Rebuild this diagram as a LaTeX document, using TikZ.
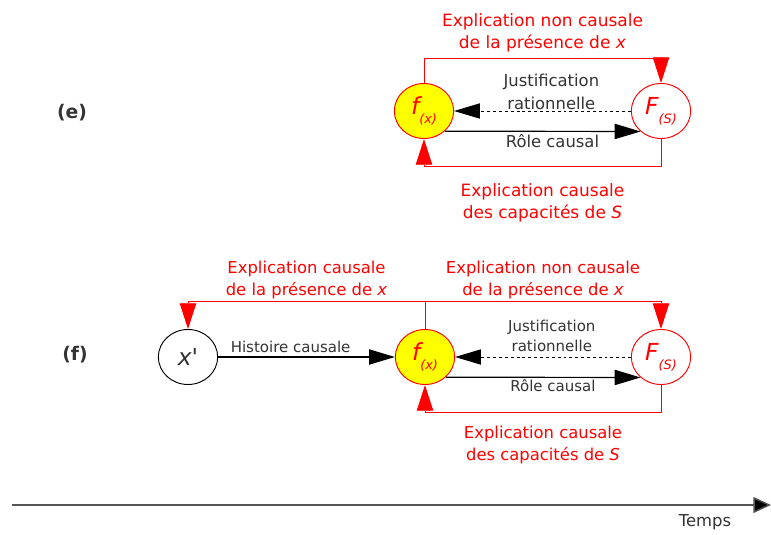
\documentclass[tikz,border=0pt]{standalone}
\usepackage{fontspec}
\setmainfont{DejaVu Sans}
\usetikzlibrary{arrows.meta,shapes.geometric}

\definecolor{grisfonce}{HTML}{333333}
\definecolor{grisaxe}{HTML}{555555}
\definecolor{jaune}{HTML}{FFFF00}

% fonction avec indice entre parentheses
\newcommand{\fonc}[2]{{\fontsize{20}{20}\selectfont\itshape #1}\raisebox{-8pt}{\fontsize{11}{11}\selectfont\itshape(#2)}}

\begin{document}
\begin{tikzpicture}[x=0.03cm, y=-0.03cm,
        etat/.style={ellipse, draw, minimum width=1.78cm, minimum height=1.65cm, inner sep=0pt, line width=0.8pt},
        fx/.style={etat, draw=red, fill=jaune, text=red},
        FS/.style={etat, draw=red, fill=white, text=red},
        fleche/.style={draw=black, line width=1pt, -{Triangle[length=22pt,width=13pt]}},
        pointille/.style={line width=0.8pt, dash pattern=on 2.5pt off 2.5pt},
        rouge/.style={draw=red, line width=0.8pt, -{Triangle[length=22pt,width=14pt]}},
        txtrouge/.style={text=red, align=center, font=\fontsize{14.5}{19.5}\selectfont},
        txtrougeb/.style={text=red, align=center, font=\fontsize{14}{19}\selectfont},
        txtgris/.style={text=grisfonce, align=center, font=\fontsize{14}{19}\selectfont},
        txtgrisb/.style={text=grisfonce, align=center, font=\fontsize{12.8}{17}\selectfont},
        lettre/.style={text=grisfonce, font=\bfseries\fontsize{16}{16}\selectfont}]

    \useasboundingbox (0,0) rectangle (771,535);

    % (e)
    \node[lettre] (e) at (72,113) {(e)};
    \node[fx] (fe) at (424,111) {\fonc{f}{x}};
    \node[FS] (Fe) at (661,111) {\fonc{F}{S}};

    \draw[rouge] (fe.north) -- ++(0,-25) -| node[pos=0.25, above=1pt, txtrouge] {Explication non causale\\de la présence de \textit{x}} (Fe.north);
    \draw[rouge] (Fe.south) -- ++(0,27) -| node[pos=0.25, below=11pt, txtrouge] {Explication causale\\des capacités de \textit{S}} (fe.south);
    \draw[fleche, pointille] (Fe.west) -- node[pos=0.45, above, inner sep=1pt, txtgris] {Justification\\rationnelle} (fe.east);
    \draw[fleche] (fe.-44) -- node[pos=0.55, below, inner sep=2pt, txtgris] {Rôle causal} (Fe.225);

    % (f)
    \node[lettre] (f) at (75,355) {(f)};
    \node[etat, text=grisfonce] (xf) at (188,357) {\fontsize{20}{20}\selectfont\itshape x\textquotesingle};
    \node[fx] (ff) at (425,357) {\fonc{f}{x}};
    \node[FS] (Ff) at (661,357) {\fonc{F}{S}};

    \draw[fleche] (xf) -- node[pos=0.41, above, inner sep=3pt, txtgrisb] {Histoire causale} (ff);
    \draw[red, line width=0.8pt] (ff.north) -- ++(0,-28) coordinate (haut);
    \draw[rouge] (haut) -| node[pos=0.25, above=-2pt, txtrougeb] {Explication causale\\de la présence de \textit{x}} (xf.north);
    \draw[rouge] (haut) -| node[pos=0.25, above=-2pt, txtrougeb] {Explication non causale\\de la présence de \textit{x}} (Ff.north);
    \draw[rouge] (Ff.south) -- ++(0,27) -| node[pos=0.25, below=8pt, txtrougeb] {Explication causale\\des capacités de \textit{S}} (ff.south);
    \draw[fleche, pointille] (Ff.west) -- node[pos=0.45, above=3pt, inner sep=1pt, txtgrisb] {Justification\\rationnelle} (ff.east);
    \draw[fleche] (ff.-44) -- node[pos=0.55, below, inner sep=1pt, txtgrisb] {Rôle causal} (Ff.225);

    % axe du temps
    \coordinate (t0) at (12,505);
    \coordinate (t1) at (771,505);
    \draw[grisaxe, line width=1.2pt, -{Triangle[length=15pt,width=13.5pt,fill=black]}] (t0) -- (t1);
    \node[txtgris] (temps) at (705,522) {Temps};
\end{tikzpicture}
\end{document}
